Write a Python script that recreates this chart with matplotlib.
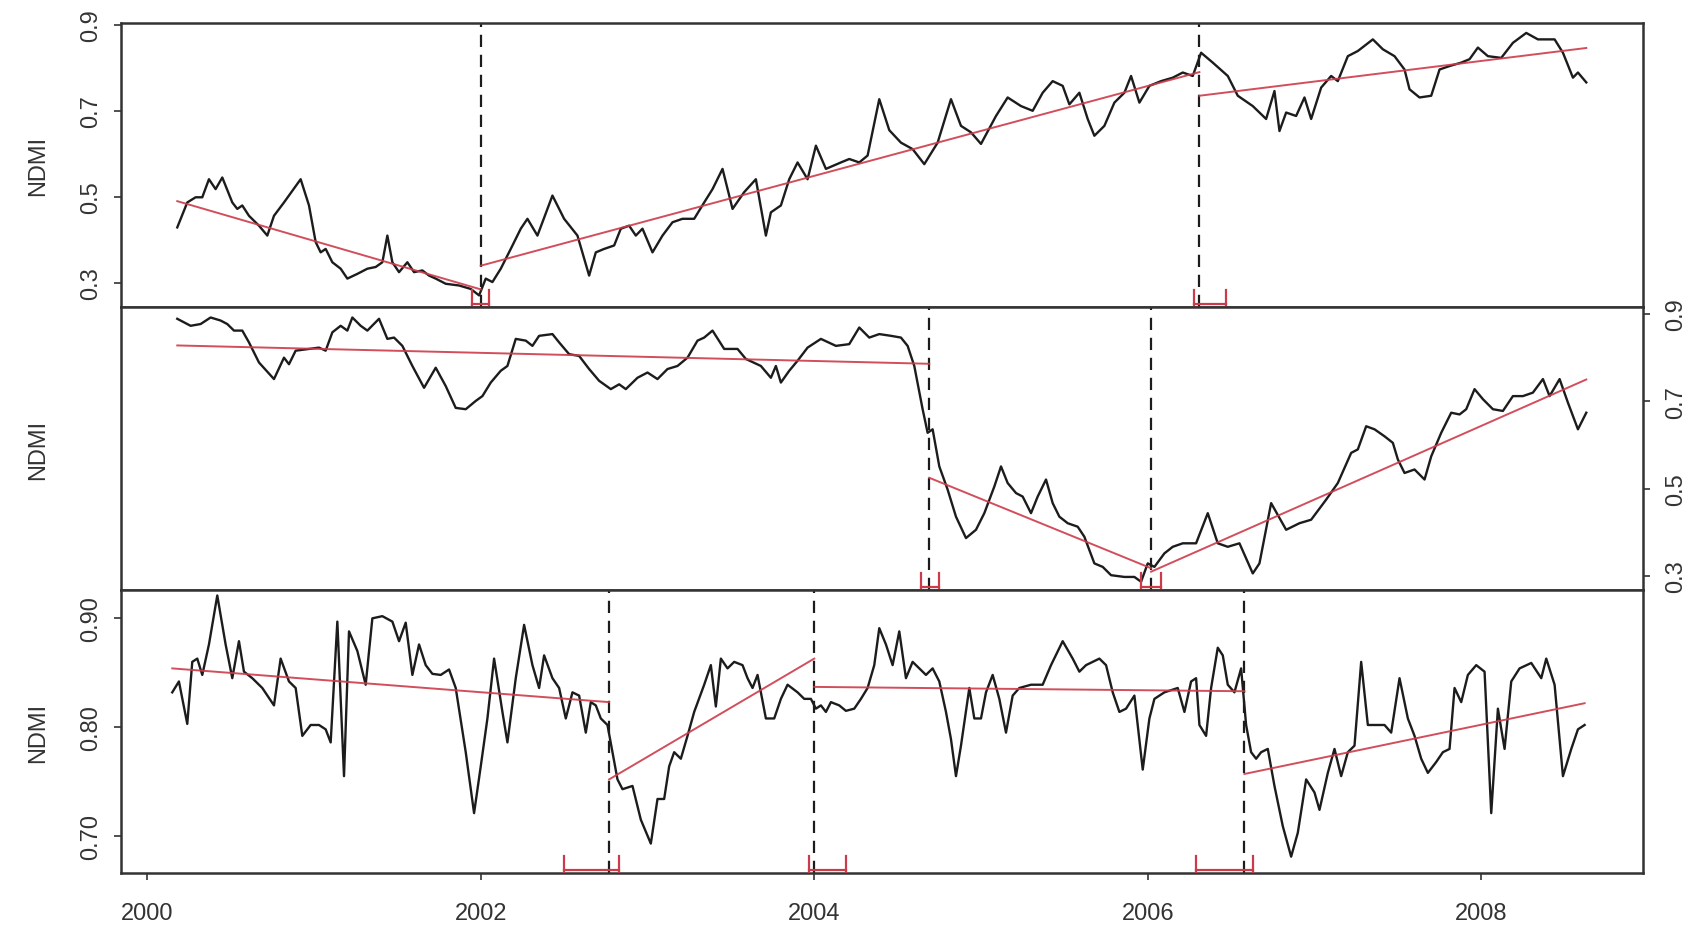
import numpy as np
import matplotlib.pyplot as plt
from matplotlib.transforms import blended_transform_factory

plt.rcParams['font.family'] = ['Liberation Sans', 'DejaVu Sans']

# ---- Piksel 1: NDMI time series ----
t1 = [2000.18, 2000.24, 2000.29, 2000.33, 2000.37, 2000.41, 2000.45, 2000.51, 2000.54, 2000.57,
      2000.61, 2000.67, 2000.72, 2000.76, 2000.82, 2000.92, 2000.97, 2001.01, 2001.04, 2001.07,
      2001.11, 2001.16, 2001.20, 2001.26, 2001.32, 2001.37, 2001.41, 2001.44, 2001.47, 2001.51,
      2001.56, 2001.60, 2001.65, 2001.69, 2001.73, 2001.79, 2001.87, 2001.94, 2001.99, 2002.03,
      2002.07, 2002.12, 2002.18, 2002.24, 2002.28, 2002.34, 2002.43, 2002.50, 2002.58, 2002.65,
      2002.69, 2002.74, 2002.80, 2002.84, 2002.89, 2002.93, 2002.97, 2003.03, 2003.09, 2003.15,
      2003.21, 2003.28, 2003.34, 2003.39, 2003.45, 2003.51, 2003.58, 2003.65, 2003.71, 2003.74,
      2003.80, 2003.85, 2003.90, 2003.96, 2004.01, 2004.07, 2004.16, 2004.21, 2004.27, 2004.32,
      2004.39, 2004.45, 2004.52, 2004.59, 2004.66, 2004.74, 2004.82, 2004.88, 2004.94, 2005.00,
      2005.09, 2005.16, 2005.24, 2005.31, 2005.37, 2005.43, 2005.49, 2005.53, 2005.59, 2005.64,
      2005.68, 2005.74, 2005.80, 2005.86, 2005.90, 2005.95, 2006.01, 2006.08, 2006.15, 2006.21,
      2006.27, 2006.32, 2006.39, 2006.48, 2006.54, 2006.63, 2006.71, 2006.76, 2006.79, 2006.83,
      2006.89, 2006.94, 2006.98, 2007.04, 2007.10, 2007.14, 2007.20, 2007.26, 2007.35, 2007.41,
      2007.48, 2007.54, 2007.57, 2007.63, 2007.70, 2007.75, 2007.81, 2007.88, 2007.93, 2007.98,
      2008.04, 2008.12, 2008.19, 2008.27, 2008.34, 2008.44, 2008.49, 2008.55, 2008.58, 2008.63]
ndmi1 = [0.429, 0.487, 0.499, 0.499, 0.541, 0.518, 0.545, 0.487, 0.472, 0.480,
         0.456, 0.433, 0.410, 0.456, 0.487, 0.541, 0.480, 0.395, 0.371, 0.379,
         0.348, 0.333, 0.310, 0.321, 0.333, 0.337, 0.348, 0.410, 0.348, 0.325,
         0.348, 0.325, 0.329, 0.317, 0.310, 0.298, 0.294, 0.286, 0.271, 0.310,
         0.302, 0.333, 0.379, 0.426, 0.449, 0.410, 0.503, 0.449, 0.410, 0.317,
         0.371, 0.379, 0.387, 0.426, 0.433, 0.410, 0.426, 0.371, 0.410, 0.441,
         0.449, 0.449, 0.487, 0.518, 0.565, 0.472, 0.511, 0.541, 0.410, 0.464,
         0.480, 0.541, 0.580, 0.541, 0.619, 0.565, 0.580, 0.588, 0.580, 0.596,
         0.727, 0.655, 0.626, 0.611, 0.576, 0.626, 0.727, 0.665, 0.650, 0.623,
         0.688, 0.731, 0.711, 0.700, 0.742, 0.769, 0.758, 0.715, 0.742, 0.681,
         0.642, 0.665, 0.719, 0.742, 0.781, 0.719, 0.758, 0.769, 0.777, 0.789,
         0.781, 0.835, 0.812, 0.781, 0.735, 0.711, 0.681, 0.746, 0.653, 0.696,
         0.688, 0.731, 0.681, 0.754, 0.781, 0.769, 0.827, 0.839, 0.866, 0.843,
         0.827, 0.796, 0.750, 0.731, 0.735, 0.796, 0.804, 0.812, 0.820, 0.847,
         0.827, 0.823, 0.858, 0.881, 0.866, 0.866, 0.835, 0.777, 0.789, 0.766]
tren1 = [((2000.18, 0.490), (2002.00, 0.285)),
         ((2002.00, 0.340), (2006.31, 0.790)),
         ((2006.31, 0.735), (2008.63, 0.846))]
patah1 = [2002.00, 2006.31]
selang1 = [(2001.95, 2002.05), (2006.28, 2006.47)]

# ---- Piksel 2 ----
t2 = [2000.18, 2000.26, 2000.32, 2000.38, 2000.44, 2000.48, 2000.52, 2000.57, 2000.61, 2000.67,
      2000.76, 2000.82, 2000.85, 2000.89, 2000.97, 2001.03, 2001.07, 2001.11, 2001.16, 2001.20,
      2001.23, 2001.28, 2001.32, 2001.39, 2001.44, 2001.48, 2001.53, 2001.59, 2001.66, 2001.73,
      2001.79, 2001.85, 2001.91, 2001.97, 2002.01, 2002.06, 2002.12, 2002.16, 2002.21, 2002.27,
      2002.31, 2002.35, 2002.43, 2002.47, 2002.53, 2002.59, 2002.65, 2002.71, 2002.78, 2002.83,
      2002.87, 2002.94, 2003.00, 2003.06, 2003.12, 2003.18, 2003.24, 2003.30, 2003.34, 2003.39,
      2003.46, 2003.54, 2003.59, 2003.68, 2003.74, 2003.77, 2003.80, 2003.85, 2003.90, 2003.96,
      2004.04, 2004.13, 2004.21, 2004.27, 2004.33, 2004.39, 2004.46, 2004.52, 2004.56, 2004.60,
      2004.65, 2004.68, 2004.71, 2004.75, 2004.80, 2004.85, 2004.91, 2004.97, 2005.02, 2005.08,
      2005.12, 2005.16, 2005.21, 2005.25, 2005.30, 2005.34, 2005.39, 2005.43, 2005.47, 2005.52,
      2005.58, 2005.62, 2005.68, 2005.73, 2005.78, 2005.86, 2005.92, 2005.96, 2006.00, 2006.04,
      2006.10, 2006.15, 2006.21, 2006.29, 2006.36, 2006.42, 2006.48, 2006.55, 2006.63, 2006.67,
      2006.74, 2006.83, 2006.91, 2006.98, 2007.07, 2007.14, 2007.22, 2007.26, 2007.31, 2007.36,
      2007.42, 2007.47, 2007.50, 2007.54, 2007.60, 2007.66, 2007.70, 2007.76, 2007.82, 2007.87,
      2007.91, 2007.96, 2008.01, 2008.07, 2008.13, 2008.19, 2008.25, 2008.31, 2008.37, 2008.41,
      2008.47, 2008.52, 2008.58, 2008.63]
ndmi2 = [0.889, 0.873, 0.877, 0.892, 0.885, 0.877, 0.862, 0.862, 0.835, 0.789,
         0.751, 0.800, 0.785, 0.816, 0.820, 0.823, 0.816, 0.858, 0.873, 0.862,
         0.892, 0.873, 0.862, 0.889, 0.843, 0.846, 0.827, 0.781, 0.731, 0.777,
         0.735, 0.685, 0.682, 0.701, 0.712, 0.743, 0.770, 0.781, 0.843, 0.839,
         0.827, 0.850, 0.854, 0.835, 0.808, 0.804, 0.774, 0.747, 0.728, 0.739,
         0.728, 0.754, 0.766, 0.751, 0.774, 0.781, 0.800, 0.839, 0.846, 0.862,
         0.820, 0.820, 0.797, 0.781, 0.754, 0.781, 0.743, 0.770, 0.793, 0.823,
         0.843, 0.827, 0.831, 0.869, 0.846, 0.854, 0.850, 0.846, 0.827, 0.781,
         0.682, 0.628, 0.636, 0.551, 0.498, 0.436, 0.387, 0.406, 0.444, 0.505,
         0.551, 0.513, 0.490, 0.482, 0.444, 0.482, 0.521, 0.467, 0.436, 0.421,
         0.413, 0.390, 0.329, 0.321, 0.302, 0.298, 0.298, 0.287, 0.329, 0.321,
         0.352, 0.367, 0.375, 0.375, 0.444, 0.375, 0.367, 0.375, 0.306, 0.329,
         0.467, 0.406, 0.421, 0.429, 0.475, 0.513, 0.582, 0.590, 0.643, 0.636,
         0.620, 0.605, 0.567, 0.536, 0.544, 0.521, 0.574, 0.628, 0.674, 0.670,
         0.682, 0.728, 0.705, 0.682, 0.678, 0.712, 0.712, 0.720, 0.751, 0.712,
         0.751, 0.697, 0.636, 0.674]
tren2 = [((2000.18, 0.828), (2004.69, 0.786)),
         ((2004.69, 0.525), (2006.02, 0.318)),
         ((2006.02, 0.310), (2008.63, 0.750))]
patah2 = [2004.69, 2006.02]
selang2 = [(2004.64, 2004.75), (2005.96, 2006.08)]

# ---- Piksel 3 ----
t3 = [2000.15, 2000.19, 2000.24, 2000.27, 2000.30, 2000.33, 2000.37, 2000.42, 2000.47, 2000.51,
      2000.55, 2000.58, 2000.63, 2000.69, 2000.76, 2000.80, 2000.85, 2000.89, 2000.93, 2000.98,
      2001.03, 2001.07, 2001.10, 2001.14, 2001.18, 2001.21, 2001.26, 2001.31, 2001.35, 2001.41,
      2001.47, 2001.51, 2001.55, 2001.59, 2001.63, 2001.67, 2001.71, 2001.76, 2001.81, 2001.85,
      2001.91, 2001.96, 2002.00, 2002.04, 2002.08, 2002.13, 2002.16, 2002.21, 2002.26, 2002.31,
      2002.35, 2002.38, 2002.43, 2002.47, 2002.51, 2002.55, 2002.59, 2002.63, 2002.66, 2002.69,
      2002.72, 2002.76, 2002.79, 2002.82, 2002.85, 2002.91, 2002.96, 2003.02, 2003.06, 2003.10,
      2003.13, 2003.16, 2003.20, 2003.24, 2003.28, 2003.34, 2003.38, 2003.41, 2003.44, 2003.48,
      2003.52, 2003.57, 2003.60, 2003.63, 2003.66, 2003.71, 2003.76, 2003.80, 2003.84, 2003.90,
      2003.94, 2003.98, 2004.01, 2004.04, 2004.07, 2004.10, 2004.15, 2004.19, 2004.24, 2004.28,
      2004.32, 2004.36, 2004.39, 2004.43, 2004.47, 2004.51, 2004.55, 2004.59, 2004.63, 2004.67,
      2004.71, 2004.75, 2004.79, 2004.82, 2004.85, 2004.88, 2004.93, 2004.96, 2005.00, 2005.03,
      2005.07, 2005.11, 2005.15, 2005.19, 2005.23, 2005.30, 2005.37, 2005.42, 2005.49, 2005.55,
      2005.59, 2005.63, 2005.71, 2005.75, 2005.79, 2005.83, 2005.87, 2005.92, 2005.97, 2006.01,
      2006.04, 2006.10, 2006.18, 2006.22, 2006.26, 2006.29, 2006.31, 2006.35, 2006.38, 2006.42,
      2006.45, 2006.48, 2006.52, 2006.56, 2006.59, 2006.62, 2006.65, 2006.68, 2006.72, 2006.76,
      2006.81, 2006.86, 2006.90, 2006.95, 2007.00, 2007.03, 2007.08, 2007.12, 2007.16, 2007.20,
      2007.24, 2007.28, 2007.32, 2007.38, 2007.42, 2007.46, 2007.51, 2007.56, 2007.60, 2007.64,
      2007.68, 2007.73, 2007.77, 2007.81, 2007.84, 2007.88, 2007.92, 2007.97, 2008.02, 2008.06,
      2008.10, 2008.14, 2008.18, 2008.23, 2008.30, 2008.36, 2008.39, 2008.44, 2008.49, 2008.54,
      2008.58, 2008.62]
ndmi3 = [0.832, 0.842, 0.803, 0.860, 0.863, 0.848, 0.876, 0.921, 0.876, 0.845,
         0.879, 0.851, 0.845, 0.836, 0.820, 0.863, 0.842, 0.836, 0.792, 0.802,
         0.802, 0.798, 0.786, 0.897, 0.755, 0.888, 0.870, 0.839, 0.900, 0.902,
         0.897, 0.879, 0.896, 0.848, 0.876, 0.857, 0.849, 0.848, 0.853, 0.836,
         0.777, 0.721, 0.764, 0.808, 0.863, 0.814, 0.786, 0.845, 0.894, 0.857,
         0.836, 0.866, 0.845, 0.836, 0.808, 0.832, 0.829, 0.795, 0.823, 0.820,
         0.808, 0.802, 0.777, 0.752, 0.743, 0.746, 0.715, 0.693, 0.734, 0.734,
         0.764, 0.777, 0.771, 0.792, 0.814, 0.839, 0.857, 0.819, 0.863, 0.854,
         0.860, 0.857, 0.845, 0.836, 0.848, 0.808, 0.808, 0.826, 0.839, 0.832,
         0.826, 0.826, 0.817, 0.820, 0.814, 0.823, 0.820, 0.815, 0.817, 0.826,
         0.836, 0.857, 0.891, 0.876, 0.857, 0.888, 0.845, 0.860, 0.854, 0.848,
         0.854, 0.842, 0.814, 0.789, 0.755, 0.783, 0.836, 0.808, 0.808, 0.832,
         0.848, 0.826, 0.795, 0.829, 0.836, 0.839, 0.839, 0.857, 0.879, 0.863,
         0.851, 0.857, 0.863, 0.857, 0.832, 0.814, 0.817, 0.829, 0.761, 0.808,
         0.826, 0.832, 0.836, 0.814, 0.842, 0.845, 0.802, 0.792, 0.836, 0.873,
         0.866, 0.839, 0.832, 0.854, 0.802, 0.777, 0.771, 0.777, 0.780, 0.746,
         0.709, 0.681, 0.703, 0.752, 0.740, 0.724, 0.758, 0.780, 0.755, 0.777,
         0.783, 0.860, 0.802, 0.802, 0.802, 0.795, 0.845, 0.808, 0.792, 0.771,
         0.758, 0.768, 0.777, 0.780, 0.836, 0.823, 0.848, 0.857, 0.851, 0.721,
         0.817, 0.780, 0.842, 0.854, 0.859, 0.845, 0.863, 0.839, 0.755, 0.780,
         0.798, 0.802]
tren3 = [((2000.15, 0.854), (2002.77, 0.823)),
         ((2002.77, 0.752), (2004.00, 0.863)),
         ((2004.00, 0.837), (2006.58, 0.833)),
         ((2006.58, 0.757), (2008.62, 0.822))]
patah3 = [2002.77, 2004.00, 2006.58]
selang3 = [(2002.50, 2002.83), (2003.97, 2004.19), (2006.29, 2006.63)]

TahunTick = [2000, 2002, 2004, 2006, 2008]
TickA = [0.3, 0.5, 0.7, 0.9]
TickB = [0.3, 0.5, 0.7, 0.9]
TickC = [0.70, 0.80, 0.90]
LabelC = ['0.70', '0.80', '0.90']

MERAH = '#cc3b4a'
HITAM = '#1c1c1c'

fig = plt.figure(figsize=(16.91, 9.28), dpi=100)
kiri, lebar = 0.0713, 0.9003
posisi = [(0.6681, 0.3060), (0.3631, 0.3050), (0.0582, 0.3049)]

panel = [
    (t1, ndmi1, tren1, patah1, selang1, (0.244, 0.904), TickA, ['0.3', '0.5', '0.7', '0.9'], 'left'),
    (t2, ndmi2, tren2, patah2, selang2, (0.268, 0.916), TickB, ['0.3', '0.5', '0.7', '0.9'], 'right'),
    (t3, ndmi3, tren3, patah3, selang3, (0.666, 0.926), TickC, LabelC, 'left'),
]

for i, (t, v, tren, patah, selang, ylim, yt, ylab, sisi) in enumerate(panel):
    bawah, tinggi = posisi[i]
    ax = fig.add_axes([kiri, bawah, lebar, tinggi])
    ax.plot(t, v, color=HITAM, lw=1.7, zorder=3)
    for (x0, y0), (x1, y1) in tren:
        ax.plot([x0, x1], [y0, y1], color=MERAH, lw=1.4, alpha=0.9, zorder=4)
    for b in patah:
        ax.axvline(b, color=HITAM, lw=1.6, ls=(0, (5.5, 3.5)), zorder=2)

    # selang kepercayaan breakpoint di dasar panel
    trans = blended_transform_factory(ax.transData, ax.transAxes)
    for lo, hi in selang:
        ax.plot([lo, hi], [0.012, 0.012], transform=trans, color=MERAH, lw=1.6, zorder=5)
        ax.plot([lo, lo], [0.0, 0.06], transform=trans, color=MERAH, lw=1.6, zorder=5)
        ax.plot([hi, hi], [0.0, 0.06], transform=trans, color=MERAH, lw=1.6, zorder=5)

    ax.set_xlim(1999.84, 2008.97)
    ax.set_ylim(*ylim)
    ax.set_yticks(yt)
    ax.set_yticklabels(ylab, rotation=90, va='center')
    if sisi == 'right':
        ax.yaxis.tick_right()
        ax.tick_params(axis='y', direction='out', length=5, width=1.2, labelsize=17, pad=11, colors='#333333')
    else:
        ax.tick_params(axis='y', direction='out', length=5, width=1.2, labelsize=17, pad=8.5, colors='#333333')
    ax.yaxis.set_label_position('left')
    ax.set_ylabel('NDMI', fontsize=17, color='#333333')
    ax.yaxis.set_label_coords(-0.047, 0.5)

    if i == 2:
        ax.set_xticks(TahunTick)
        ax.set_xticklabels([str(x) for x in TahunTick])
        ax.tick_params(axis='x', direction='out', length=5, width=1.2, labelsize=17, pad=16, colors='#333333')
    else:
        ax.set_xticks([])

    for s in ax.spines.values():
        s.set_linewidth(1.8)
        s.set_color('#333333')

fig.savefig('out.png', dpi=100)
